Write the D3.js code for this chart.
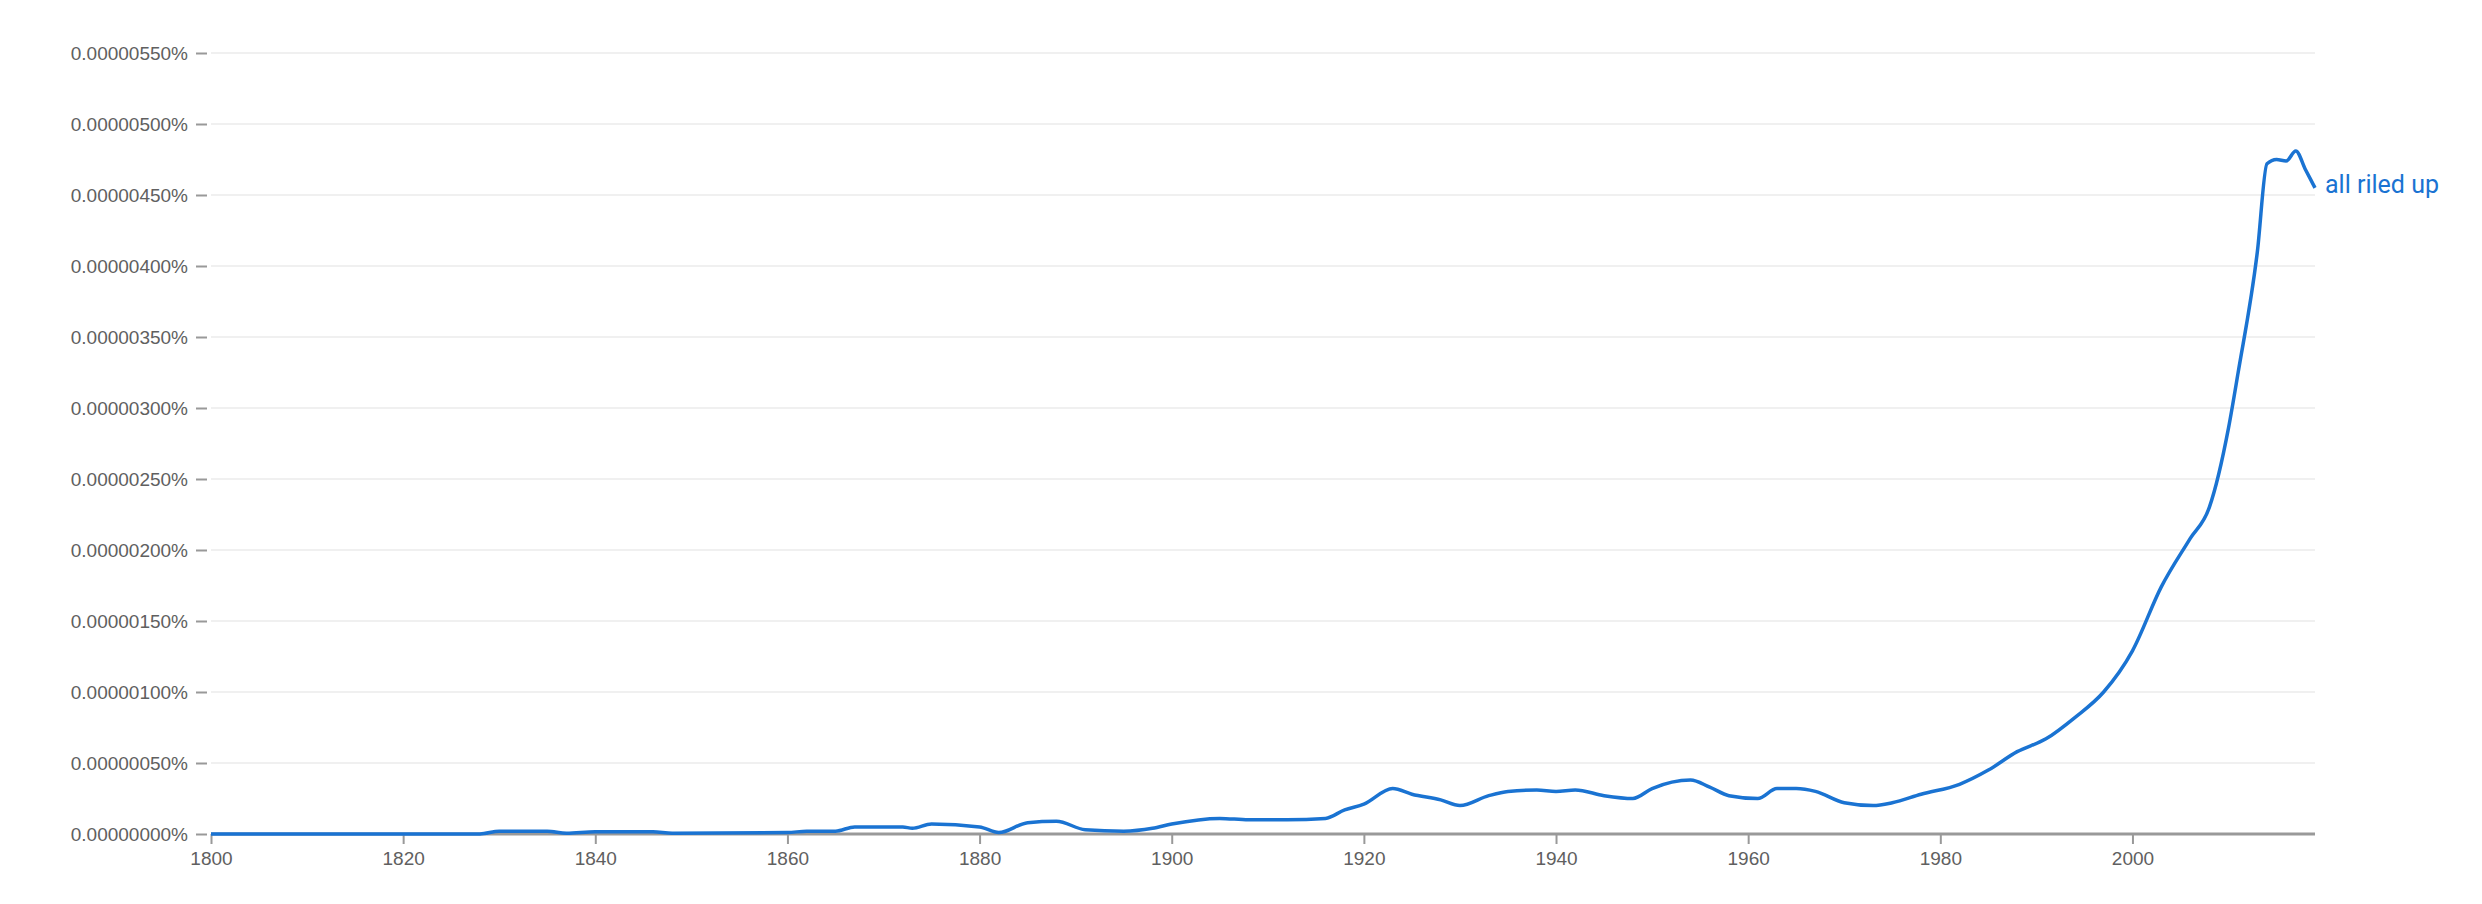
<!DOCTYPE html>
<html>
<head>
<meta charset="utf-8">
<script src="https://cdn.jsdelivr.net/npm/d3@7"></script>
<style>
  body { margin: 0; background: #fff; }
  svg { font-family: Roboto, "Noto Sans", sans-serif; }
</style>
</head>
<body>
<svg id="chart" width="2482" height="904"></svg>
<script>
// values in units of 1e-8 percent (550 = 0.00000550%)
const years = [1800,1828,1830,1835,1837,1840,1846,1848,1860,1862,1865,1867,1872,1873,1875,1880,1882,1885,1888,1891,1895,1898,1900,1905,1908,1912,1916,1918,1920,1923,1925,1928,1930,1933,1935,1938,1940,1942,1945,1948,1950,1954,1956,1958,1961,1963,1965,1967,1970,1973,1975,1978,1982,1985,1988,1991,1994,1997,2000,2003,2006,2008,2010,2011,2013,2014,2015,2016,2017,2018,2019];
const values = [0,0,2,2,0.5,1.5,1.5,0.5,1,2,2,5,5,4,7,5,1,8,9,3,2,4,7,11,10,10,11,17,21,32,28,24,20,27,30,31,30,31,27,25,32,38,33,27,25,32,32,30,22,20,22,28,35,45,58,67,82,100,129,174,208,230,286,325,410,472,475,474,481,468,455];
const yTicks = [0,50,100,150,200,250,300,350,400,450,500,550];
const xTicks = [1800,1820,1840,1860,1880,1900,1920,1940,1960,1980,2000];
const seriesName = "all riled up";

const svg = d3.select('#chart');
const x = d3.scaleLinear().domain([1800, 2019]).range([211, 2315]);
const y = d3.scaleLinear().domain([0, 550]).range([834, 53]);
const fmt = v => (v / 1e8).toFixed(8) + "%";

// grid
svg.append("g")
    .selectAll("line")
    .data(yTicks.slice(1))
    .enter().append("line")
    .attrs ? null : null;
svg.select("g").selectAll("line")
    .attr("x1", x(1800)).attr("x2", x(2019))
    .attr("y1", d => y(d)).attr("y2", d => y(d))
    .style("stroke", "#f0f0f0").style("stroke-width", 2);

// y axis
const yAxis = svg.append("g")
    .attr("transform", `translate(${x(1800)},0)`)
    .call(d3.axisLeft(y).tickValues(yTicks).tickFormat(fmt).tickSize(11).tickPadding(8));
yAxis.select(".domain").remove();
yAxis.selectAll(".tick line").attr("transform", "translate(-4,0)").style("stroke", "#999").style("stroke-width", 2);
yAxis.selectAll("text").style("font-size", "19px").style("fill", "#606060").attr("dx", "-4");

// x axis
const xAxis = svg.append("g")
    .attr("transform", `translate(0,${y(0)})`)
    .call(d3.axisBottom(x).tickValues(xTicks).tickFormat(d3.format("d")).tickSize(10).tickPadding(8));
xAxis.select(".domain").attr("d", `M${x(1800)},0H${x(2019)}`).style("stroke", "#999").style("stroke-width", 3);
xAxis.selectAll(".tick line").style("stroke", "#999").style("stroke-width", 2);
xAxis.selectAll("text").style("font-size", "19px").style("fill", "#606060");

// line
const data = years.map((yr, i) => ({ year: yr, v: values[i] }));
svg.append("path")
    .datum(data)
    .attr("d", d3.line().x(d => x(d.year)).y(d => y(d.v)).curve(d3.curveMonotoneX))
    .style("fill", "none").style("stroke", "#1a73d2").style("stroke-width", 3.5)
    .style("stroke-linejoin", "round");

const last = data[data.length - 1];
svg.append("text")
    .attr("x", x(last.year) + 10).attr("y", y(last.v))
    .attr("dy", "0.2em")
    .style("font-size", "25px").style("fill", "#1a73d2")
    .text(seriesName);
</script>
</body>
</html>
